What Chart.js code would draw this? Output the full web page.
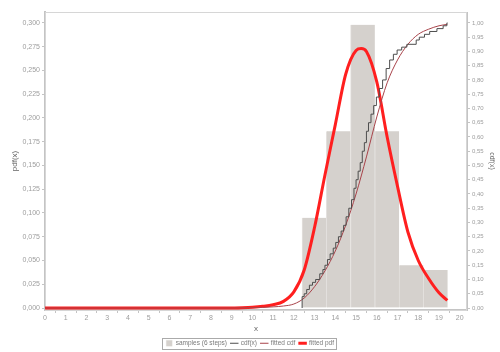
<!DOCTYPE html>
<html>
<head>
<meta charset="utf-8">
<script src="https://cdn.jsdelivr.net/npm/chart.js@4/dist/chart.umd.min.js"></script>
<style>
  html, body { margin: 0; padding: 0; background: #fff; }
  #wrap { width: 500px; height: 352px; position: relative; }
</style>
</head>
<body>
<div id="wrap"><canvas id="c"></canvas></div>
<script>
'use strict';

// ─── DATA ────────────────────────────────────────────────────────────────────
const binCenters = [12.98, 14.15, 15.32, 16.49, 17.66, 18.83];
const binDensity = [0.095, 0.186, 0.298, 0.186, 0.045, 0.040];

const pdfX = [0, 8.9, 9.5, 10, 10.5, 11, 11.5, 12, 12.5, 13, 13.5, 14, 14.5, 15, 15.25, 15.5, 16, 16.5, 17, 17.5, 18, 18.5, 19, 19.4];
const pdfY = [0, 0, 0.0003, 0.0008, 0.0018, 0.0035, 0.007, 0.017, 0.040, 0.085, 0.140, 0.193, 0.246, 0.271, 0.273, 0.270, 0.238, 0.180, 0.128, 0.080, 0.050, 0.031, 0.016, 0.008];

const fcdfX = [0, 9, 10, 11, 11.5, 12, 12.5, 13, 13.5, 14, 14.5, 15, 15.5, 16, 16.5, 17, 17.5, 18, 18.5, 19, 19.4];
const fcdfY = [0, 0, 0.001, 0.004, 0.007, 0.014, 0.035, 0.075, 0.13, 0.20, 0.29, 0.40, 0.53, 0.67, 0.79, 0.87, 0.925, 0.96, 0.978, 0.99, 0.995];

const ecdfX = [12.40, 12.40, 12.50, 12.62, 12.75, 12.90, 13.05, 13.25, 13.40, 13.50, 13.62, 13.75, 13.90, 14.02, 14.15, 14.28, 14.40, 14.52, 14.65, 14.78, 14.90, 15.00, 15.10, 15.20, 15.30, 15.40, 15.50, 15.60, 15.72, 15.85, 15.98, 16.12, 16.28, 16.45, 16.62, 16.80, 16.98, 17.20, 17.45, 17.90, 18.05, 18.30, 18.55, 18.90, 19.20, 19.38, 19.41];
const ecdfY = [0, 0.025, 0.04, 0.05, 0.065, 0.08, 0.09, 0.10, 0.12, 0.135, 0.15, 0.17, 0.19, 0.21, 0.23, 0.25, 0.27, 0.29, 0.32, 0.35, 0.38, 0.42, 0.45, 0.48, 0.51, 0.55, 0.58, 0.62, 0.65, 0.68, 0.71, 0.74, 0.77, 0.80, 0.84, 0.87, 0.89, 0.905, 0.915, 0.925, 0.94, 0.95, 0.96, 0.97, 0.98, 0.99, 1.0];

const xTicks = [0,1,2,3,4,5,6,7,8,9,10,11,12,13,14,15,16,17,18,19,20];
const pdfTicks = [0, 0.025, 0.05, 0.075, 0.1, 0.125, 0.15, 0.175, 0.2, 0.225, 0.25, 0.275, 0.3];
const cdfTicks = [0, 0.05, 0.1, 0.15, 0.2, 0.25, 0.3, 0.35, 0.4, 0.45, 0.5, 0.55, 0.6, 0.65, 0.7, 0.75, 0.8, 0.85, 0.9, 0.95, 1.0];

const pts = (xs, ys) => xs.map((x, i) => ({ x, y: ys[i] }));

const FONT = 'Liberation Sans';
const TICK_COLOR = '#9d9d9d';
const AXIS_COLOR = '#c4c4c4';

// frame around plot, box around legend, fixed legend height
const framePlugin = {
  id: 'frame',
  beforeInit(chart) {
    const lg = chart.legend;
    if (!lg) return;
    const fit = lg.fit.bind(lg);
    lg.fit = function () { fit(); this.height = 14; };
  },
  beforeDatasetsDraw(chart) {
    const { ctx, chartArea: a } = chart;
    ctx.save();
    ctx.strokeStyle = '#d6d6d6';
    ctx.lineWidth = 1;
    ctx.strokeRect(a.left + 0.5, a.top + 0.5, a.right - a.left - 1, a.bottom - a.top);
    ctx.restore();
  },
  afterDraw(chart) {
    const boxes = chart.legend && chart.legend.legendHitBoxes;
    if (!boxes || !boxes.length) return;
    const { ctx } = chart;
    const l = Math.min(...boxes.map(b => b.left)) - 4;
    const r = Math.max(...boxes.map(b => b.left + b.width)) + 2;
    const t = Math.min(...boxes.map(b => b.top)) - 2;
    const btm = Math.max(...boxes.map(b => b.top + b.height)) + 2;
    ctx.save();
    ctx.strokeStyle = '#aaaaaa';
    ctx.lineWidth = 1;
    ctx.strokeRect(Math.round(l) + 0.5, Math.round(t) + 0.5, Math.round(r - l), Math.round(btm - t));
    ctx.restore();
  }
};

new Chart(document.getElementById('c'), {
  type: 'line',
  data: {
    datasets: [
      {
        type: 'bar',
        label: 'samples (6 steps)',
        data: pts(binCenters, binDensity),
        backgroundColor: '#d5d1cd',
        borderColor: '#e4e1de',
        borderWidth: { left: 1, right: 0, top: 0, bottom: 0 },
        borderSkipped: false,
        barThickness: 'flex',
        barPercentage: 1.0, categoryPercentage: 1.0,
        pointStyle: 'rect',
        yAxisID: 'y', order: 4
      },
      {
        label: 'cdf(x)',
        data: pts(ecdfX, ecdfY),
        borderColor: '#4d4d4d', backgroundColor: '#4d4d4d',
        borderWidth: 1, pointRadius: 0, stepped: 'after',
        pointStyle: 'line', yAxisID: 'y1', order: 1
      },
      {
        label: 'fitted cdf',
        data: pts(fcdfX, fcdfY),
        borderColor: '#a8434a', backgroundColor: '#a8434a',
        borderWidth: 1, pointRadius: 0, cubicInterpolationMode: 'monotone',
        pointStyle: 'line', yAxisID: 'y1', order: 2
      },
      {
        label: 'fitted pdf',
        data: pts(pdfX, pdfY),
        borderColor: '#ff1f1f', backgroundColor: '#ff1f1f',
        borderWidth: 3, pointRadius: 0, cubicInterpolationMode: 'monotone',
        pointStyle: 'line', yAxisID: 'y', order: 3
      }
    ]
  },
  options: {
    responsive: true,
    maintainAspectRatio: false,
    animation: false,
    layout: { padding: { top: 12, left: 0, right: 0, bottom: 2 } },
    plugins: {
      tooltip: { enabled: false },
      legend: {
        position: 'bottom',
        labels: {
          color: '#7a7a7a',
          font: { family: FONT, size: 6.5 },
          usePointStyle: true,
          boxWidth: 8, boxHeight: 6,
          padding: 4,
          sort: (a, b) => a.datasetIndex - b.datasetIndex
        }
      }
    },
    scales: {
      x: {
        type: 'linear', min: 0, max: 20.35, offset: false,
        afterBuildTicks: s => { s.ticks = xTicks.map(v => ({ value: v })); },
        afterFit: s => { s.height = 26; },
        ticks: { color: TICK_COLOR, font: { family: FONT, size: 7 }, padding: 1, maxRotation: 0 },
        grid: { display: true, drawOnChartArea: false, drawTicks: true, tickLength: 3, color: AXIS_COLOR },
        border: { display: true, color: AXIS_COLOR, width: 2 },
        title: { display: true, text: 'x', color: '#666', font: { family: FONT, size: 8 }, padding: { top: 2, bottom: 2 } }
      },
      y: {
        type: 'linear', position: 'left', min: -0.0021, max: 0.3115,
        afterBuildTicks: s => { s.ticks = pdfTicks.map(v => ({ value: v })); },
        afterFit: s => { s.width = 45; },
        ticks: { color: TICK_COLOR, font: { family: FONT, size: 7 }, padding: 2,
                 callback: v => v.toFixed(3).replace('.', ',') },
        grid: { display: true, drawOnChartArea: false, drawTicks: true, tickLength: 3, color: AXIS_COLOR },
        border: { display: true, color: AXIS_COLOR, width: 2 },
        title: { display: true, text: 'pdf(x)', color: '#666', font: { family: FONT, size: 8 }, padding: { top: 10, bottom: 0 } }
      },
      y1: {
        type: 'linear', position: 'right', min: -0.007, max: 1.0383,
        afterBuildTicks: s => { s.ticks = cdfTicks.map(v => ({ value: v })); },
        afterFit: s => { s.width = 33; },
        ticks: { color: TICK_COLOR, font: { family: FONT, size: 6 }, padding: 2,
                 callback: v => v.toFixed(2).replace('.', ',') },
        grid: { display: true, drawOnChartArea: false, drawTicks: true, tickLength: 3, color: AXIS_COLOR },
        border: { display: true, color: AXIS_COLOR, width: 1 },
        title: { display: true, text: 'cdf(x)', color: '#666', font: { family: FONT, size: 7 }, padding: { top: 4, bottom: 0 } }
      }
    }
  },
  plugins: [framePlugin]
});
</script>
</body>
</html>
